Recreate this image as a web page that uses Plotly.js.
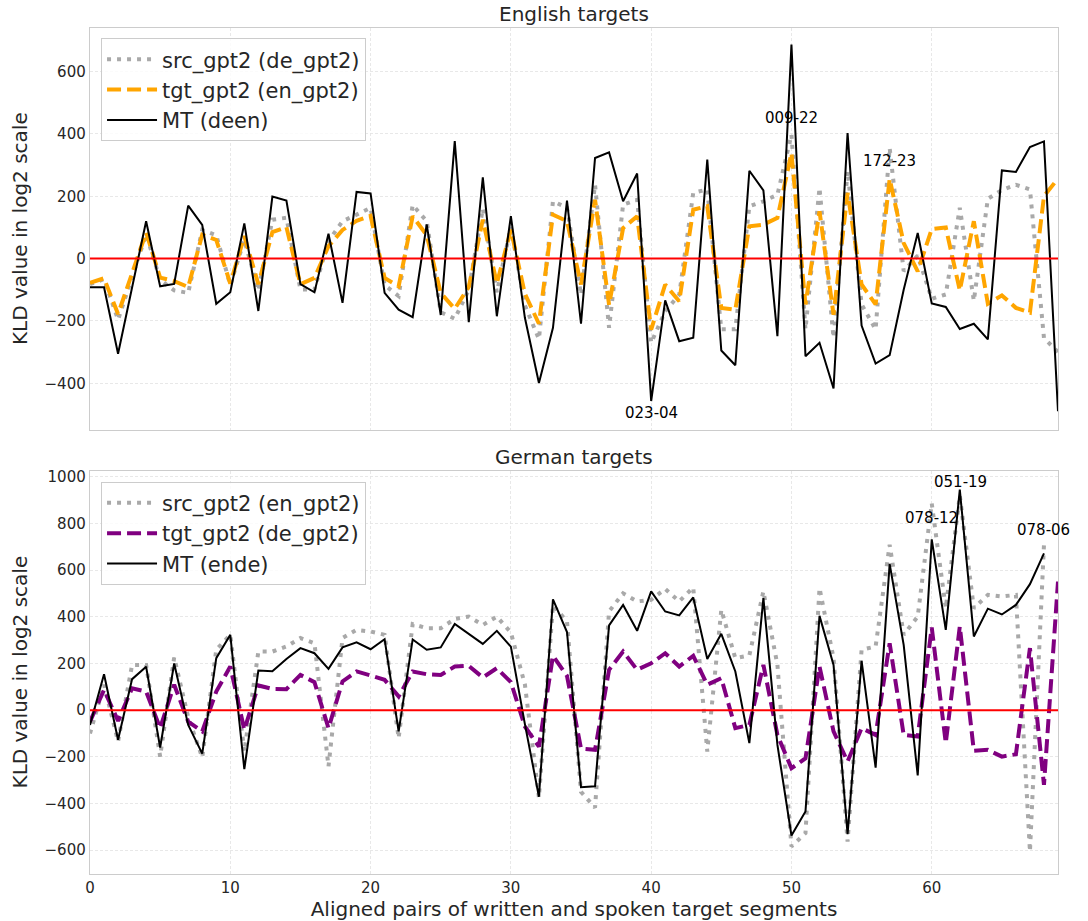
<!DOCTYPE html>
<html>
<head>
<meta charset="utf-8">
<script src="https://cdn.plot.ly/plotly-3.0.1.min.js"></script>
<style>html,body{margin:0;padding:0;background:#fff;}#chart{width:1088px;height:921px;}</style>
</head>
<body>
<div id="chart"></div>
<script>
// ---------- data ----------
const segIndex = Array.from({length: 70}, (_, i) => i);

// English targets
const enSrcGpt2 = [-82,-66,-196,-60,78,-68,-102,-110,92,75,-85,60,-102,125,131,-99,-99,56,120,141,163,-85,-120,172,120,-172,-193,-100,160,-108,101,-150,-258,184,163,-116,237,-222,173,189,-270,-169,-116,211,222,-227,-227,168,184,205,398,-227,227,-254,280,-147,-227,355,-40,10,-129,-115,163,-135,192,220,237,222,-255,-300];
const enTgtGpt2 = [-78,-63,-178,-50,84,-61,-72,-91,77,60,-80,72,-82,85,101,-82,-62,40,92,121,137,-62,-89,136,75,-110,-161,-91,125,-80,93,-113,-209,141,120,-83,189,-148,98,136,-228,-83,-137,157,168,-158,-164,104,109,131,339,-147,152,-180,211,-83,-147,256,50,-41,95,100,-102,120,-145,-118,-158,-173,200,257];
const enMT = [-92,-92,-305,-95,120,-89,-81,170,108,-145,-108,113,-168,199,186,-82,-108,80,-142,214,209,-110,-164,-188,110,-181,377,-204,261,-185,136,-190,-399,-222,186,-209,323,341,184,273,-457,-134,-265,-254,318,-295,-342,282,219,-249,687,-313,-270,-417,403,-215,-337,-310,-100,82,-144,-155,-226,-209,-259,283,278,358,376,-490];

// German targets
const deSrcGpt2 = [-100,109,-134,194,194,-199,226,-30,-203,259,323,-177,251,251,273,309,287,-241,309,344,337,323,-120,369,351,351,391,401,365,401,333,110,-375,450,380,-350,-418,423,501,466,473,520,466,526,-177,430,223,235,509,194,-584,-527,523,223,-563,259,273,709,323,401,886,437,920,437,494,487,494,-606,708,null];
const deTgtGpt2 = [-49,87,-46,94,80,-77,109,-49,-91,80,187,-84,106,91,90,151,120,-77,123,166,149,130,59,166,154,151,187,190,140,180,120,-70,-156,233,147,-165,-170,173,251,173,201,244,187,233,109,137,-77,-63,194,-106,-249,-206,187,-91,-220,-77,-106,287,-106,-113,354,-141,359,-174,-170,-199,-189,266,-320,551];
const deMT = [-63,154,-127,133,186,-160,200,-63,-186,223,323,-253,170,167,219,266,244,177,269,291,261,304,-91,303,259,269,369,326,284,340,272,-60,-371,475,335,-330,-326,363,451,340,509,423,406,483,219,327,166,-141,480,-149,-537,-434,404,194,-531,211,-246,627,280,-280,732,344,945,316,435,410,451,540,672,null];

// labels
const seriesNamesEn = ['src_gpt2 (de_gpt2)', 'tgt_gpt2 (en_gpt2)', 'MT (deen)'];
const seriesNamesDe = ['src_gpt2 (en_gpt2)', 'tgt_gpt2 (de_gpt2)', 'MT (ende)'];
const panelTitles = ['English targets', 'German targets'];
const yTitle = 'KLD value in log2 scale';
const xTitle = 'Aligned pairs of written and spoken target segments';

// segment id labels
const enLabelText = ['009-22', '172-23', '028-15', '023-04'];
const enLabelX = [50.0, 57.0, 69.1, 40.0];
const enLabelY = [451, 313, -293, -495];
const deLabelText = ['078-12', '051-19', '078-06'];
const deLabelX = [60.0, 62.06, 68.0];
const deLabelY = [823, 976, 772];

// ---------- styling ----------
const FONT = 'DejaVu Sans, sans-serif';
const TXT = '#262626';
const GRAY = '#a9a9a9';
const dotDash = '4px,6px';
const dashDash = '14px,6px';

function tr(y, name, color, width, dash, xa, ya, leg, grp) {
  return {x: segIndex, y: y, name: name, type: 'scatter', mode: 'lines',
    line: {color: color, width: width, dash: dash},
    xaxis: xa, yaxis: ya, legend: leg, legendgroup: grp, connectgaps: false,
    hoverinfo: 'skip'};
}

const data = [
  tr(enSrcGpt2, seriesNamesEn[0], GRAY, 4, dotDash, 'x', 'y', 'legend', 'a1'),
  tr(enTgtGpt2, seriesNamesEn[1], '#ffa500', 4, dashDash, 'x', 'y', 'legend', 'a2'),
  tr(enMT, seriesNamesEn[2], '#000000', 2, 'solid', 'x', 'y', 'legend', 'a3'),
  tr(deSrcGpt2, seriesNamesDe[0], GRAY, 4, dotDash, 'x2', 'y2', 'legend2', 'b1'),
  tr(deTgtGpt2, seriesNamesDe[1], '#800080', 4, dashDash, 'x2', 'y2', 'legend2', 'b2'),
  tr(deMT, seriesNamesDe[2], '#000000', 2, 'solid', 'x2', 'y2', 'legend2', 'b3')
];

const axisCommon = {
  showline: true, mirror: true, linecolor: '#cccccc', linewidth: 1.25,
  showgrid: true, gridcolor: '#e2e2e2', gridwidth: 0.8, griddash: '3px,2px',
  zeroline: false, ticks: '', tickfont: {family: FONT, size: 15, color: TXT},
  automargin: false
};

const annotations = [];
enLabelText.forEach((t, i) => annotations.push({x: enLabelX[i], y: enLabelY[i], xref: 'x', yref: 'y',
  text: t, showarrow: false, font: {family: FONT, size: 15, color: '#000'}, xanchor: 'center', yanchor: 'middle'}));
deLabelText.forEach((t, i) => annotations.push({x: deLabelX[i], y: deLabelY[i], xref: 'x2', yref: 'y2',
  text: t, showarrow: false, font: {family: FONT, size: 15, color: '#000'}, xanchor: 'center', yanchor: 'middle'}));
annotations.push({x: 0.5, y: 1.0, xref: 'paper', yref: 'paper', yshift: 14, text: panelTitles[0], showarrow: false,
  font: {family: FONT, size: 20, color: TXT}, xanchor: 'center', yanchor: 'middle'});
annotations.push({x: 0.5, y: 0.4764, xref: 'paper', yref: 'paper', yshift: 14, text: panelTitles[1], showarrow: false,
  font: {family: FONT, size: 20, color: TXT}, xanchor: 'center', yanchor: 'middle'});
// y-axis titles
annotations.push({x: 0, y: 0.7624, xref: 'paper', yref: 'paper', xshift: -70, text: yTitle, textangle: -90, showarrow: false,
  font: {family: FONT, size: 20, color: TXT}, xanchor: 'center', yanchor: 'middle'});
annotations.push({x: 0, y: 0.2382, xref: 'paper', yref: 'paper', xshift: -70, text: yTitle, textangle: -90, showarrow: false,
  font: {family: FONT, size: 20, color: TXT}, xanchor: 'center', yanchor: 'middle'});

const legendCommon = {
  xanchor: 'left', yanchor: 'top', font: {family: FONT, size: 21, color: TXT},
  bgcolor: 'rgba(255,255,255,0.8)', bordercolor: '#cccccc', borderwidth: 1,
  itemwidth: 50, tracegroupgap: 1, traceorder: 'normal'
};

const layout = {
  width: 1088, height: 921,
  margin: {l: 90, r: 30, t: 28, b: 47},
  paper_bgcolor: '#ffffff', plot_bgcolor: '#ffffff',
  font: {family: FONT, color: TXT},
  showlegend: true,
  xaxis: Object.assign({}, axisCommon, {domain: [0, 1], anchor: 'y', range: [0, 69], tick0: 0, dtick: 10, showticklabels: false}),
  yaxis: Object.assign({}, axisCommon, {domain: [0.5248, 1], anchor: 'x', range: [-550, 740], tick0: 0, dtick: 200}),
  xaxis2: Object.assign({}, axisCommon, {domain: [0, 1], anchor: 'y2', range: [0, 69], tick0: 0, dtick: 10,
    title: {text: xTitle, font: {family: FONT, size: 20, color: TXT}}}),
  yaxis2: Object.assign({}, axisCommon, {domain: [0, 0.4764], anchor: 'x2', range: [-702, 1025], tick0: 0, dtick: 200}),
  legend: Object.assign({}, legendCommon, {x: 0.0114, y: 0.988}),
  legend2: Object.assign({}, legendCommon, {x: 0.0114, y: 0.4637}),
  shapes: [
    {type: 'line', xref: 'x domain', yref: 'y', x0: 0, x1: 1, y0: 0, y1: 0, line: {color: '#ff0000', width: 2}, layer: 'above'},
    {type: 'line', xref: 'x2 domain', yref: 'y2', x0: 0, x1: 1, y0: 0, y1: 0, line: {color: '#ff0000', width: 2}, layer: 'above'}
  ],
  annotations: annotations
};

Plotly.newPlot('chart', data, layout, {displayModeBar: false, staticPlot: true});
</script>
</body>
</html>
